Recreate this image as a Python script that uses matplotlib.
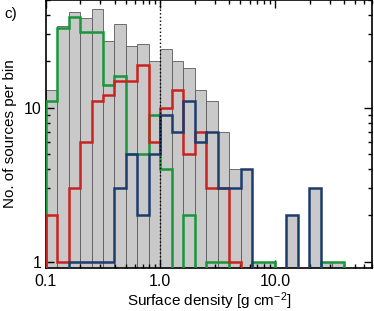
"""Histogram of source surface densities, split into three sub-samples."""

import matplotlib
import matplotlib.pyplot as plt
import numpy as np
from matplotlib.ticker import FuncFormatter, LogLocator

matplotlib.use("Agg")

plt.rcParams['font.family'] = ['Liberation Sans', 'DejaVu Sans']
plt.rcParams['mathtext.default'] = 'regular'

# 0.1 dex bins starting at 0.1 g cm^-2
bin_edges = np.logspace(-1, 1.6, 27)

# counts per bin
total_counts = [13, 34, 42, 38, 44, 27, 35, 25, 26, 20, 24, 20, 18,
                13, 11, 7, 4, 4, 1, 1, 0, 2, 0, 3, 1, 1]
green_counts = [11, 33, 39, 31, 31, 14, 16, 5, 5, 9, 4, 0, 2,
                0, 1, 1, 0, 0, 1, 1, 0, 0, 0, 0, 1, 1]
red_counts = [2, 1, 3, 6, 11, 12, 15, 15, 19, 6, 10, 13, 5,
              7, 3, 3, 1, 0, 0, 0, 0, 0, 0, 0, 0, 0]
blue_counts = [0, 0, 1, 1, 1, 1, 3, 5, 2, 5, 9, 7, 11,
               6, 7, 3, 3, 4, 0, 0, 0, 2, 0, 3, 0, 0]

x_ticks = [0.1, 1.0, 10.0]
y_ticks = [1, 10]

FLOOR = 0.5  # zero counts drop below the axis on the log scale

fig = plt.figure(figsize=(3.74, 3.11), dpi=100)
ax = fig.add_axes([0.122, 0.138, 0.8725, 0.862])

# grey total histogram
total = np.array(total_counts, dtype=float)
keep = total > 0
ax.bar(bin_edges[:-1][keep], total[keep], width=np.diff(bin_edges)[keep],
       align='edge', color='#c9c9c9', edgecolor='#5a5a5a', linewidth=0.6,
       zorder=1)

# coloured sub-samples as step outlines
for counts, colour in [(green_counts, '#17973a'),
                       (red_counts, '#c8231f'),
                       (blue_counts, '#1d3c6e')]:
    vals = np.array(counts, dtype=float)
    vals = np.where(vals > 0, vals, FLOOR)
    ax.stairs(vals, bin_edges, baseline=FLOOR, color=colour,
              linewidth=1.8, zorder=3)

ax.axvline(1.0, color='black', linestyle=':', linewidth=1.0, zorder=4)

ax.set_xscale('log')
ax.set_yscale('log')
ax.set_xlim(0.1, 70)
ax.set_ylim(0.91, 50)

ax.set_xticks(x_ticks)
ax.set_yticks(y_ticks)
ax.xaxis.set_major_formatter(FuncFormatter(lambda v, p: f"{v:.1f}"))
ax.yaxis.set_major_formatter(FuncFormatter(lambda v, p: f"{v:g}"))
ax.xaxis.set_minor_locator(LogLocator(subs=np.arange(2, 10)))
ax.yaxis.set_minor_locator(LogLocator(subs=np.arange(2, 10)))
ax.xaxis.set_minor_formatter(FuncFormatter(lambda v, p: ""))
ax.yaxis.set_minor_formatter(FuncFormatter(lambda v, p: ""))

ax.tick_params(which='both', direction='in', top=True, right=True,
               labelsize=11.5, width=1.0)
ax.tick_params(which='major', length=6)
ax.tick_params(which='minor', length=3)
ax.tick_params(axis='x', which='major', pad=4)
ax.tick_params(axis='y', which='major', pad=3)
for spine in ax.spines.values():
    spine.set_linewidth(1.2)

ax.set_xlabel("Surface density [g cm$^{-2}$]", fontsize=11)
ax.xaxis.set_label_coords(0.5, -0.082)
ax.set_ylabel("No. of sources per bin", fontsize=11)
ax.yaxis.set_label_coords(-0.088, 0.5)

fig.text(0.012, 0.955, "c)", fontsize=11, ha='left', va='center')

plt.savefig("out.png", dpi=100)
plt.close()
